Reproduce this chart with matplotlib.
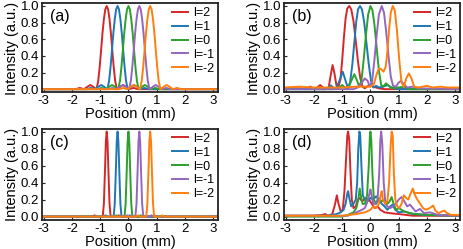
import numpy as np
import matplotlib
matplotlib.use("Agg")
import matplotlib.pyplot as plt

plt.rcParams['font.family'] = ['Liberation Sans', 'DejaVu Sans']

labels = ['l=2', 'l=1', 'l=0', 'l=-1', 'l=-2']
colors = ['#d62728', '#1f77b4', '#2ca02c', '#9467bd', '#ff7f0e']

# peak positions (mm) (a) and (c)
centers = [-0.77, -0.385, 0.0, 0.385, 0.77]

# panel (a): one beam profile, offset from its peak (mm) -> intensity
prof_a_dx = [-1.1, -0.95, -0.8, -0.68, -0.58, -0.48, -0.4, -0.36, -0.3, -0.25, -0.2,
             -0.15, -0.1, -0.05, 0.0, 0.05, 0.1, 0.15, 0.2, 0.25, 0.3, 0.36, 0.4,
             0.48, 0.58, 0.68, 0.8, 0.95, 1.1]
prof_a_i = [0.0, 0.015, 0.0, 0.03, 0.05, 0.03, 0.005, 0.0, 0.1, 0.26, 0.46,
            0.67, 0.84, 0.96, 1.0, 0.96, 0.84, 0.67, 0.46, 0.26, 0.1, 0.0, 0.005,
            0.03, 0.05, 0.03, 0.0, 0.015, 0.0]

# panel (c): narrow profile
prof_c_dx = [-0.5, -0.43, -0.36, -0.14, -0.1, -0.06, -0.03, 0.0, 0.03, 0.06, 0.1,
             0.14, 0.36, 0.43, 0.5]
prof_c_i = [0.0, 0.015, 0.0, 0.0, 0.15, 0.55, 0.88, 1.0, 0.88, 0.55, 0.15,
            0.0, 0.0, 0.015, 0.0]

# panel (b)
b_x = [
    [-3.1, -2.5, -2.3, -2.13, -1.95, -1.78, -1.62, -1.48, -1.4, -1.34, -1.28, -1.2,
     -1.14, -1.06, -1.0, -0.94, -0.88, -0.82, -0.75, -0.68, -0.6, -0.52, -0.44,
     -0.36, -0.28, -0.2, -0.05, 0.1, 0.3, 0.5, 1.0, 3.2],
    [-3.1, -1.6, -1.48, -1.4, -1.32, -1.22, -1.1, -0.98, -0.88, -0.8, -0.72, -0.64,
     -0.56, -0.5, -0.44, -0.37, -0.3, -0.22, -0.14, -0.06, 0.02, 0.1, 0.2, 0.3,
     0.45, 0.6, 0.75, 1.0, 3.2],
    [-3.1, -1.3, -1.1, -1.0, -0.9, -0.8, -0.68, -0.57, -0.47, -0.4, -0.32, -0.24,
     -0.16, -0.08, 0.0, 0.07, 0.14, 0.22, 0.3, 0.38, 0.45, 0.55, 0.65, 0.75, 1.2,
     1.4, 3.2],
    [-3.1, -0.6, -0.45, -0.3, -0.2, -0.1, -0.02, 0.06, 0.14, 0.22, 0.3, 0.4, 0.48,
     0.56, 0.64, 0.72, 0.8, 0.9, 1.0, 1.08, 1.18, 1.3, 1.5, 1.7, 3.2],
    [-3.1, -2.5, -2.0, -1.0, -0.5, 0.0, 0.12, 0.22, 0.3, 0.38, 0.46, 0.54, 0.6,
     0.66, 0.72, 0.79, 0.86, 0.94, 1.02, 1.1, 1.18, 1.28, 1.36, 1.45, 1.55, 1.7,
     2.0, 2.2, 2.5, 2.7, 3.2],
]
b_y = [
    [0.01, 0.01, 0.0, 0.03, 0.0, 0.05, 0.0, 0.02, 0.18, 0.29, 0.2, 0.04,
     0.02, 0.12, 0.35, 0.62, 0.85, 0.97, 1.0, 0.96, 0.82, 0.58, 0.33,
     0.13, 0.03, 0.01, 0.05, 0.03, 0.01, 0.0, 0.0, 0.0],
    [0.0, 0.0, 0.02, 0.045, 0.02, 0.0, 0.1, 0.21, 0.1, 0.02, 0.08, 0.3,
     0.6, 0.82, 0.96, 1.0, 0.96, 0.8, 0.55, 0.3, 0.1, 0.02, 0.04, 0.02,
     0.03, 0.05, 0.02, 0.0, 0.0],
    [0.0, 0.0, 0.02, 0.05, 0.02, 0.0, 0.1, 0.18, 0.1, 0.03, 0.1, 0.35,
     0.65, 0.9, 1.0, 0.95, 0.78, 0.5, 0.22, 0.05, 0.03, 0.07, 0.04, 0.01, 0.03,
     0.0, 0.0],
    [0.0, 0.0, 0.02, 0.08, 0.13, 0.1, 0.03, 0.1, 0.35, 0.65, 0.9, 1.0, 0.92,
     0.68, 0.4, 0.15, 0.04, 0.03, 0.08, 0.1, 0.06, 0.02, 0.03, 0.01, 0.0],
    [0.02, 0.03, 0.02, 0.02, 0.03, 0.03, 0.06, 0.18, 0.25, 0.24, 0.21, 0.27, 0.45,
     0.72, 0.92, 1.0, 0.95, 0.7, 0.35, 0.08, 0.03, 0.14, 0.19, 0.13, 0.03, 0.02,
     0.04, 0.02, 0.03, 0.02, 0.02],
]

# panel (d)
d_x = [
    [-3.1, -2.0, -1.7, -1.6, -1.5, -1.35, -1.25, -1.19, -1.13, -1.05, -0.98, -0.92,
     -0.86, -0.82, -0.79, -0.75, -0.71, -0.66, -0.6, -0.52, -0.45, -0.38, -0.3,
     -0.22, -0.15, -0.05, 0.05, 0.15, 0.25, 0.35, 0.5, 0.7, 1.0, 1.5, 2.0, 3.2],
    [-3.1, -1.5, -1.2, -1.05, -0.95, -0.88, -0.82, -0.79, -0.75, -0.68, -0.6, -0.52,
     -0.47, -0.43, -0.39, -0.36, -0.32, -0.27, -0.2, -0.1, 0.0, 0.1, 0.2, 0.3, 0.4,
     0.5, 0.6, 0.7, 0.78, 0.88, 1.0, 1.2, 1.5, 2.0, 3.2],
    [-3.1, -1.0, -0.8, -0.6, -0.5, -0.43, -0.38, -0.34, -0.28, -0.2, -0.12, -0.06,
     -0.02, 0.0, 0.03, 0.07, 0.12, 0.2, 0.3, 0.4, 0.5, 0.6, 0.68, 0.75, 0.82, 0.9,
     1.0, 1.2, 1.4, 1.6, 2.0, 3.2],
    [-3.1, -0.8, -0.5, -0.3, -0.2, -0.1, -0.03, 0.0, 0.04, 0.1, 0.18, 0.25, 0.31,
     0.35, 0.38, 0.42, 0.47, 0.53, 0.6, 0.7, 0.8, 0.9, 1.0, 1.1, 1.2, 1.3, 1.4, 1.5,
     1.6, 1.75, 1.9, 2.1, 2.4, 3.2],
    [-3.1, -1.0, -0.5, -0.2, 0.0, 0.1, 0.2, 0.3, 0.36, 0.4, 0.44, 0.52, 0.6, 0.66,
     0.71, 0.75, 0.79, 0.83, 0.88, 0.95, 1.02, 1.1, 1.18, 1.26, 1.34, 1.42, 1.5,
     1.58, 1.66, 1.76, 1.86, 1.96, 2.1, 2.22, 2.3, 2.42, 2.52, 2.62, 2.72, 2.85,
     3.0, 3.2],
]
d_y = [
    [0.01, 0.01, 0.02, 0.03, 0.01, 0.03, 0.15, 0.25, 0.15, 0.06, 0.08, 0.3,
     0.7, 0.95, 1.0, 0.9, 0.55, 0.2, 0.1, 0.12, 0.2, 0.22, 0.18,
     0.2, 0.22, 0.2, 0.15, 0.1, 0.12, 0.08, 0.05, 0.04, 0.03, 0.01, 0.01, 0.01],
    [0.01, 0.01, 0.03, 0.05, 0.08, 0.15, 0.27, 0.3, 0.22, 0.12, 0.15, 0.2,
     0.4, 0.8, 1.0, 0.95, 0.6, 0.25, 0.2, 0.18, 0.22, 0.2, 0.24, 0.2, 0.15,
     0.12, 0.08, 0.12, 0.14, 0.08, 0.05, 0.06, 0.03, 0.02, 0.01],
    [0.0, 0.0, 0.02, 0.05, 0.1, 0.2, 0.33, 0.25, 0.15, 0.15, 0.25, 0.6,
     0.95, 1.0, 0.9, 0.5, 0.2, 0.15, 0.2, 0.18, 0.2, 0.15, 0.18, 0.23, 0.15, 0.08,
     0.1, 0.06, 0.04, 0.03, 0.02, 0.01],
    [0.01, 0.01, 0.05, 0.08, 0.1, 0.18, 0.28, 0.32, 0.25, 0.15, 0.15, 0.2, 0.5,
     0.9, 1.0, 0.85, 0.4, 0.15, 0.12, 0.1, 0.12, 0.15, 0.2, 0.23, 0.18, 0.12, 0.14, 0.1,
     0.06, 0.09, 0.04, 0.05, 0.02, 0.01],
    [0.01, 0.01, 0.03, 0.05, 0.08, 0.12, 0.1, 0.15, 0.25, 0.3, 0.2, 0.15, 0.18, 0.4,
     0.8, 1.0, 0.95, 0.5, 0.2, 0.12, 0.1, 0.15, 0.25, 0.22, 0.2, 0.27, 0.33,
     0.25, 0.2, 0.15, 0.1, 0.08, 0.1, 0.13, 0.07, 0.04, 0.06, 0.07, 0.04, 0.02,
     0.02, 0.02],
]

x_ticks = [-3, -2, -1, 0, 1, 2, 3]
y_ticks = [0.0, 0.2, 0.4, 0.6, 0.8, 1.0]


def shifted(dx, vals):
    # same profile placed at each peak position, padded to the full range
    xs, ys = [], []
    for c in centers:
        xs.append(np.concatenate([[-3.1], c + np.array(dx), [3.2]]))
        ys.append(np.concatenate([[0.0], vals, [0.0]]))
    return xs, ys


def draw_panel(ax, xs, ys, tag):
    for x, y, c, lab in zip(xs, ys, colors, labels):
        ax.plot(x, y, color=c, lw=1.4, label=lab)
    ax.set_xlim(-3.06, 3.17)
    ax.set_ylim(-0.04, 1.03)
    ax.set_xticks(x_ticks)
    ax.set_xticklabels([str(t) for t in x_ticks])
    ax.set_yticks(y_ticks)
    ax.set_yticklabels(['%.1f' % t for t in y_ticks])
    ax.tick_params(direction='in', length=2.5, width=0.8, labelsize=9.5, pad=2,
                   colors='#222222')
    ax.tick_params(axis='x', labelcolor='black')
    ax.tick_params(axis='y', labelcolor='black')
    for s in ax.spines.values():
        s.set_linewidth(1.3)
        s.set_color('#222222')
    ax.set_xlabel('Position (mm)', fontsize=10.5, labelpad=0)
    ax.set_ylabel('Intensity (a.u.)', fontsize=10.5, labelpad=1)
    ax.text(0.1, 0.85, tag, transform=ax.transAxes, fontsize=11.5, ha='center',
            va='center')
    ax.legend(loc='upper right', frameon=False, fontsize=9, handlelength=1.3,
              handletextpad=0.4, labelspacing=0.15, borderaxespad=0.1,
              borderpad=0.2)


fig = plt.figure(figsize=(4.63, 2.49), dpi=100)
W, H = 463.0, 249.0
ax_a = fig.add_axes([42 / W, 1 - 92.5 / H, 176 / W, 89 / H])
ax_b = fig.add_axes([284 / W, 1 - 92.5 / H, 176 / W, 89 / H])
ax_c = fig.add_axes([42 / W, 1 - 220 / H, 176 / W, 91 / H])
ax_d = fig.add_axes([284 / W, 1 - 220 / H, 176 / W, 91 / H])

xa, ya = shifted(prof_a_dx, prof_a_i)
xc, yc = shifted(prof_c_dx, prof_c_i)
draw_panel(ax_a, xa, ya, '(a)')
draw_panel(ax_b, b_x, b_y, '(b)')
draw_panel(ax_c, xc, yc, '(c)')
draw_panel(ax_d, d_x, d_y, '(d)')

fig.savefig('out.png', dpi=100)
